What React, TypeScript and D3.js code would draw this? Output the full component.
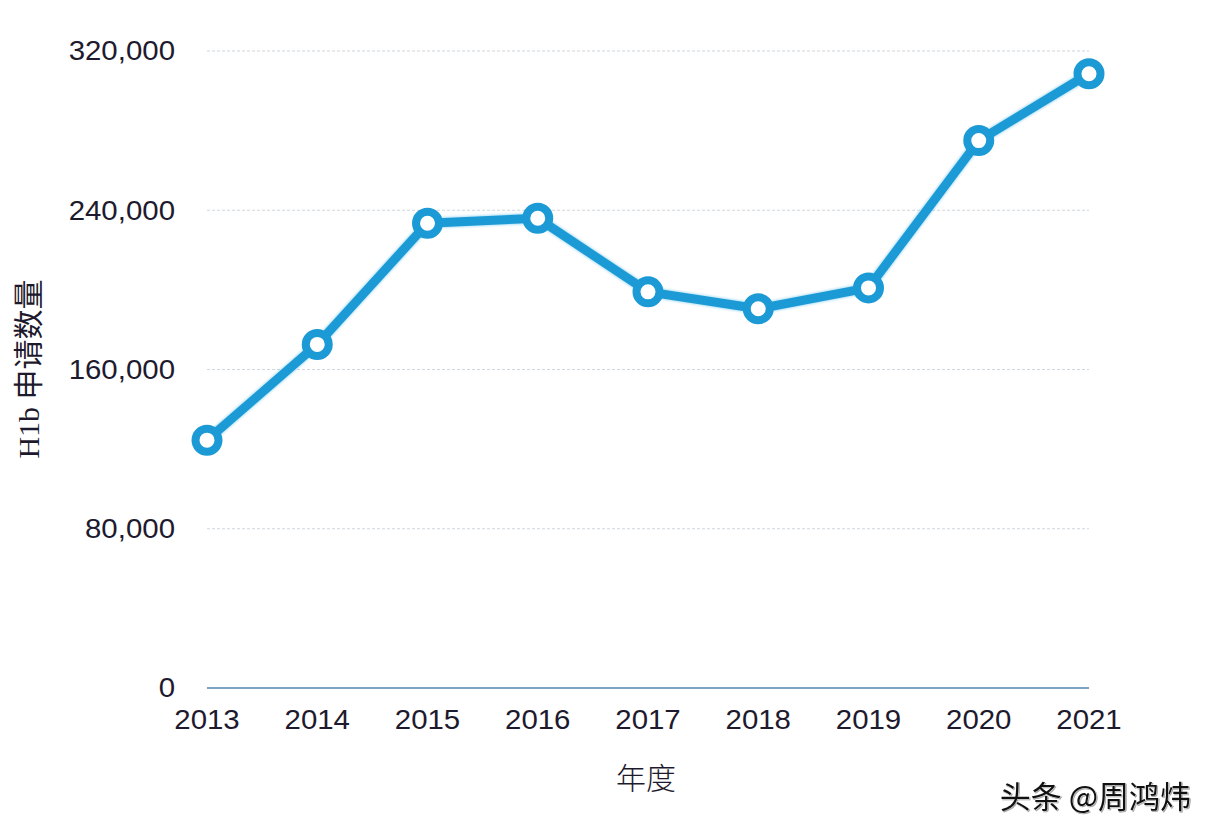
import React from "react";
import * as d3 from "d3";

const years = ["2013", "2014", "2015", "2016", "2017", "2018", "2019", "2020", "2021"];
const applications = [124500, 172600, 233500, 236000, 199000, 190500, 201000, 275000, 308600];
const yTicks = [0, 80000, 160000, 240000, 320000];

const W = 1214;
const H = 836;
const margin = { left: 207, right: 125, top: 51, bottom: 148 };
const lineColor = "#1b9ad6";

export default function App() {
  const x = d3
    .scalePoint<string>()
    .domain(years)
    .range([margin.left, W - margin.right]);
  const y = d3
    .scaleLinear()
    .domain([0, 320000])
    .range([H - margin.bottom, margin.top]);
  const fmt = d3.format(",");
  const line = d3
    .line<number>()
    .x((_, i) => x(years[i]) as number)
    .y((d) => y(d));
  const x0 = margin.left;
  const x1 = W - margin.right;

  return (
    <svg
      width={W}
      height={H}
      style={{ position: "fixed", left: 0, top: 0, background: "#fff" }}
      fontFamily="'Liberation Sans', Arial, sans-serif"
    >
      <defs>
        <filter id="glow" x="-10%" y="-10%" width="120%" height="120%">
          <feGaussianBlur stdDeviation="1" />
        </filter>
      </defs>
      {yTicks.map((t) =>
        t === 0 ? null : (
          <line
            key={"g" + t}
            x1={x0}
            x2={x1}
            y1={y(t)}
            y2={y(t)}
            stroke="#cfd6dc"
            strokeWidth={1}
            strokeDasharray="3,2"
          />
        )
      )}
      <line x1={x0} x2={x1} y1={y(0)} y2={y(0)} stroke="#4f86b0" strokeWidth={1.5} />
      {yTicks.map((t) => (
        <g key={"t" + t} transform={`translate(175,${y(t)}) scale(1.09,1)`}>
          <text dy="0.35em" textAnchor="end" fontSize={27} fill="#1e1a2e">
            {fmt(t)}
          </text>
        </g>
      ))}
      {years.map((yr) => (
        <g key={"x" + yr} transform={`translate(${x(yr) as number},720) scale(1.09,1)`}>
          <text dy="0.35em" textAnchor="middle" fontSize={27} fill="#1e1a2e">
            {yr}
          </text>
        </g>
      ))}
      <path
        d={line(applications) || ""}
        fill="none"
        stroke="#6cc4ec"
        strokeWidth={11}
        strokeLinejoin="round"
        opacity={0.5}
        filter="url(#glow)"
      />
      <path
        d={line(applications) || ""}
        fill="none"
        stroke={lineColor}
        strokeWidth={9}
        strokeLinejoin="round"
      />
      {applications.map((v, i) => (
        <circle
          key={"c" + i}
          cx={x(years[i]) as number}
          cy={y(v)}
          r={11.5}
          fill="#fff"
          stroke={lineColor}
          strokeWidth={8}
        />
      ))}
      <text
        transform={`translate(39,369) rotate(-90)`}
        textAnchor="middle"
        fontSize={30}
        fill="#1e1a2e"
        fontFamily="'Liberation Serif', 'Noto Sans CJK SC', serif"
      >
        H1b 申请数量
      </text>
      <text
        x={646}
        y={789}
        textAnchor="middle"
        fontSize={30}
        fill="#1e1a2e"
        fontFamily="'Noto Sans CJK SC', sans-serif"
        fontWeight={300}
      >
        年度
      </text>
      <text
        x={1191}
        y={808}
        textAnchor="end"
        fontSize={31}
        fill="#111"
        stroke="#fff"
        strokeWidth={0.6}
        paintOrder="stroke"
        fontFamily="'Noto Sans CJK SC', sans-serif"
        style={{ filter: "drop-shadow(1px 1px 0.5px rgba(0,0,0,0.35))" }}
      >
        头条 @周鸿炜
      </text>
    </svg>
  );
}
